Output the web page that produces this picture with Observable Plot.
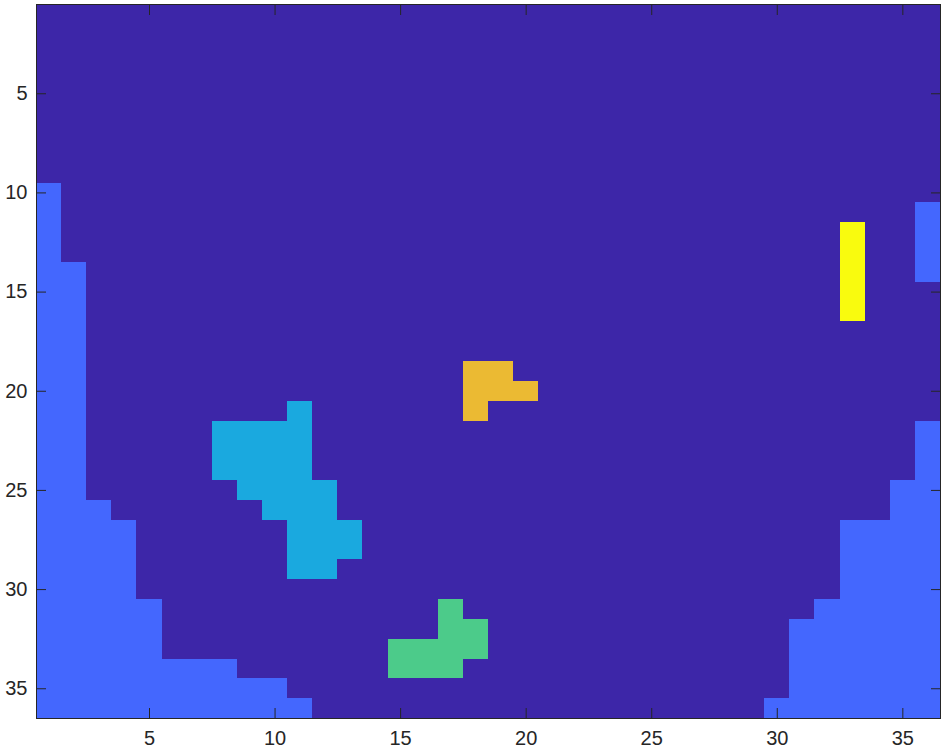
<!DOCTYPE html>
<html>
<head>
<meta charset="utf-8">
<script src="https://cdn.jsdelivr.net/npm/d3@7"></script>
<script src="https://cdn.jsdelivr.net/npm/@observablehq/plot@0.6"></script>
<style>
  html, body { margin: 0; padding: 0; background: #ffffff; }
  #chart svg { display: block; }
</style>
</head>
<body>
<div id="chart"></div>
<script>
// Grid size (image matrix 36 x 36)
const rowIds = d3.range(1, 37);
const colIds = d3.range(1, 37);
const xTicks = [5, 10, 15, 20, 25, 30, 35];
const yTicks = [5, 10, 15, 20, 25, 30, 35];

// class values and their colours (parula-like)
const classValues = [0, 1, 2, 3, 4, 5];
const classColors = ["#3d26a8", "#4467fe", "#1aa9df", "#4ccb8a", "#ebba33", "#f9fb0e"];

// blocks: [firstRow, lastRow, firstCol, lastCol]
const blueBlocks = [
  [10, 13, 1, 1], [14, 25, 1, 2], [26, 26, 1, 3], [27, 30, 1, 4],
  [31, 33, 1, 5], [34, 34, 1, 8], [35, 35, 1, 10], [36, 36, 1, 11],
  [11, 14, 36, 36], [22, 24, 36, 36], [25, 26, 35, 36], [27, 30, 33, 36],
  [31, 31, 32, 36], [32, 35, 31, 36], [36, 36, 30, 36]
];
const cyanBlocks = [
  [21, 21, 11, 11], [22, 24, 8, 11], [25, 25, 9, 12], [26, 26, 10, 12],
  [27, 28, 11, 13], [29, 29, 11, 12]
];
const greenBlocks = [
  [31, 31, 17, 17], [32, 32, 17, 18], [33, 33, 15, 18], [34, 34, 15, 17]
];
const orangeBlocks = [
  [19, 19, 18, 19], [20, 20, 18, 20], [21, 21, 18, 18]
];
const yellowBlocks = [
  [12, 16, 33, 33]
];

// build matrix
const grid = rowIds.map(() => colIds.map(() => 0));
function paint(blocks, v) {
  for (const [r1, r2, c1, c2] of blocks)
    for (let r = r1; r <= r2; r++)
      for (let c = c1; c <= c2; c++) grid[r - 1][c - 1] = v;
}
paint(blueBlocks, 1);
paint(cyanBlocks, 2);
paint(greenBlocks, 3);
paint(orangeBlocks, 4);
paint(yellowBlocks, 5);

const cells = [];
rowIds.forEach((r, i) => colIds.forEach((c, j) => cells.push({row: r, col: c, v: grid[i][j]})));

const axisColor = "#262626";
const chart = Plot.plot({
  width: 945,
  height: 751,
  marginLeft: 36,
  marginRight: 5,
  marginTop: 4,
  marginBottom: 33,
  style: {
    fontFamily: "'Liberation Sans', Arial, Helvetica, sans-serif",
    fontSize: "20px",
    color: axisColor,
    background: "#ffffff"
  },
  x: {type: "band", domain: colIds, padding: 0, round: false},
  y: {type: "band", domain: rowIds, padding: 0, round: false},
  color: {type: "ordinal", domain: classValues, range: classColors},
  marks: [
    Plot.cell(cells, {x: "col", y: "row", fill: "v", inset: 0, shapeRendering: "crispEdges"}),
    Plot.axisX({anchor: "bottom", ticks: xTicks, tickSize: -10, tickPadding: 22, label: null}),
    Plot.axisX({anchor: "top", ticks: xTicks, tickSize: -10, tickFormat: () => "", label: null}),
    Plot.axisY({anchor: "left", ticks: yTicks, tickSize: -10, tickPadding: 19, label: null}),
    Plot.axisY({anchor: "right", ticks: yTicks, tickSize: -10, tickFormat: () => "", label: null}),
    Plot.frame({stroke: axisColor, strokeWidth: 1})
  ]
});
document.getElementById("chart").appendChild(chart);
</script>
</body>
</html>
